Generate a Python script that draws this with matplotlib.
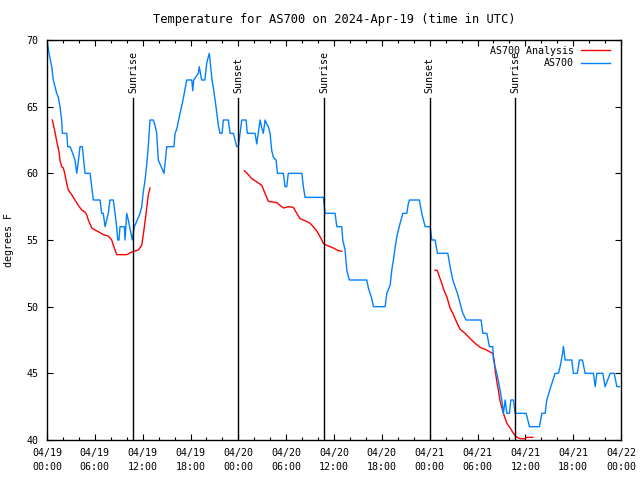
import matplotlib
matplotlib.use('Agg')
import matplotlib.pyplot as plt
import matplotlib.dates as mdates
import numpy as np
from datetime import datetime, timedelta

# start of plot (UTC)
t0 = datetime(2024, 4, 19, 0, 0)

# AS700 observations: hours since start, temperature (F)
obs_hours = [0, 0.25, 0.59, 0.79, 1.22, 1.42, 1.63, 1.84, 1.92, 2.47, 2.6, 2.89, 3.1, 3.51, 3.73,
             3.95, 4.14, 4.43, 4.77, 5.4, 5.61, 5.81, 6.65, 6.86, 7.06, 7.28, 7.49, 7.69, 7.9, 8.32,
             8.53, 8.74, 8.87, 9.03, 9.16, 9.7, 9.79, 10.0, 10.2, 10.7, 10.95, 11.25, 11.67, 11.88,
             12.08, 12.3, 12.5, 12.7, 12.92, 13.34, 13.55, 13.76, 13.96, 14.68, 15.02, 15.93, 16.06,
             16.27, 16.69, 17.06, 17.53, 18.16, 18.28, 18.4, 18.98, 19.1, 19.4, 19.8, 20.04, 20.36,
             20.7, 20.87, 21.2, 21.49, 21.7, 21.96, 22.12, 22.75, 22.96, 23.38, 23.59, 23.8, 24.0,
             24.22, 24.43, 24.97, 25.13, 26.1, 26.31, 26.5, 26.73, 26.9, 27.14, 27.35, 27.56, 27.77,
             27.98, 28.19, 28.4, 28.73, 28.9, 29.65, 29.86, 30.07, 30.27, 31.96, 32.16, 32.37, 34.67,
             34.88, 36.14, 36.35, 36.97, 37.1, 37.39, 37.6, 37.93, 40.11, 40.31, 40.53, 40.74, 40.94,
             42.41, 42.62, 43.04, 43.25, 43.45, 43.66, 43.88, 44.08, 44.29, 44.63, 45.13, 45.33,
             45.46, 46.71, 47.01, 47.43, 48.06, 48.27, 48.68, 48.97, 50.28, 50.56, 50.9, 51.19,
             51.48, 51.82, 52.16, 52.57, 54.45, 54.67, 55.17, 55.5, 55.92, 56.0, 56.42, 56.75, 57.05,
             57.25, 57.47, 57.68, 58.0, 58.18, 58.51, 58.72, 60.1, 60.52, 61.77, 62.07, 62.48, 62.69,
             63.2, 63.74, 64.15, 64.37, 64.7, 64.78, 64.99, 65.83, 66.03, 66.53, 66.78, 67.16, 67.5,
             68.54, 68.76, 68.97, 69.72, 70.01, 70.64, 71.15, 71.48, 71.81]
obs_temp = [70, 69, 68, 67, 66, 65.7, 65, 64, 63, 63, 62, 62, 61.7, 61, 60,
            61, 62, 62, 60, 60, 59, 58, 58, 57, 57, 56, 56.5, 57, 58, 58,
            57, 56, 55, 55, 56, 56, 55, 57, 56.5, 55, 56, 56.4, 57, 57.5,
            58.6, 59.5, 60.6, 62, 64, 64, 63.6, 63, 61, 60, 62, 62, 63,
            63.3, 64.5, 65.5, 67, 67, 66.2, 67, 67.5, 68, 67, 67, 68.3, 69,
            67, 66.4, 65, 63.6, 63, 63, 64, 64, 63, 63, 62.5, 62, 62,
            63, 64, 64, 63, 63, 62.2, 63, 64, 63.5, 63, 64, 63.7, 63.5,
            63, 61.7, 61.2, 61, 60, 60, 59, 59, 60, 60, 59, 58.2, 58.2,
            57, 57, 56, 56, 55, 54.25, 52.75, 52, 52, 51.4, 51, 50.6, 50,
            50, 51, 51.6, 52.75, 53.5, 54.4, 55.25, 55.75, 56.25, 57, 57, 57.75,
            58, 58, 57, 56, 56, 55, 55, 54, 54, 53, 52, 51.5,
            51, 50.25, 49.5, 49, 49, 48, 48, 47, 47, 46, 45, 44, 43,
            42, 43, 42, 42, 43, 43, 42, 42, 41, 41, 42, 42, 43,
            44, 45, 45, 45.5, 46.6, 47, 46, 46, 45, 45, 46, 46, 45,
            45, 44, 45, 45, 44, 45, 45, 44, 44]

# AS700 Analysis (three separate runs)
ana1_hours = [0.67, 1.0, 1.22, 1.51, 1.63, 1.84, 2.05, 2.26, 2.47, 2.67, 3.1, 3.51, 3.93, 4.35, 4.77,
              4.98, 5.18, 5.61, 6.02, 6.65, 7.06, 7.69, 8.12, 8.32, 8.75, 10.0, 10.63, 11.46, 11.88,
              12.08, 12.3, 12.51, 12.71, 12.92]
ana1_temp = [64, 63.1, 62.4, 61.6, 61, 60.5, 60.4, 59.9, 59.25, 58.75, 58.4, 58, 57.6, 57.25, 57.1,
             56.9, 56.5, 55.9, 55.75, 55.55, 55.4, 55.3, 55, 54.6, 53.9, 53.9, 54.1, 54.25, 54.6,
             55.4, 56.4, 57.4, 58.4, 58.9]
ana2_hours = [24.76, 25.26, 25.68, 26.22, 26.94, 27.35, 27.77, 28.82, 29.23, 29.65, 30.28, 30.9,
              31.33, 31.74, 32.37, 33.0, 33.41, 33.92, 34.25, 34.67, 35.09, 35.92, 36.55, 36.98]
ana2_temp = [60.2, 59.9, 59.6, 59.4, 59.1, 58.5, 57.9, 57.8, 57.6, 57.4, 57.5, 57.45,
             57, 56.6, 56.45, 56.25, 56, 55.6, 55.25, 54.75, 54.6, 54.4, 54.2, 54.15]
ana3_hours = [48.68, 48.97, 49.22, 49.52, 49.81, 50.15, 50.56, 50.98, 51.41, 51.82, 52.45, 53.08,
              53.7, 54.33, 54.96, 55.58, 55.92, 56.09, 56.21, 56.42, 56.62, 56.84, 57.25, 57.68,
              58.09, 58.51, 58.81, 59.35, 59.97, 60.19, 60.94]
ana3_temp = [52.75, 52.7, 52.25, 51.75, 51.2, 50.75, 49.9, 49.4, 48.8, 48.3, 48, 47.6,
             47.25, 46.95, 46.8, 46.6, 46.5, 46, 45.25, 44.4, 43.75, 42.9, 42, 41.25,
             40.9, 40.5, 40.25, 40.1, 40.1, 40.2, 40.2]

# sunrise / sunset (hours since start)
sun_hours = [10.79, 23.96, 34.76, 47.99, 58.72]
sun_labels = ['Sunrise', 'Sunset', 'Sunrise', 'Sunset', 'Sunrise']


def to_dt(hours):
    return [t0 + timedelta(hours=h) for h in hours]


plt.rcParams['font.family'] = 'DejaVu Sans Mono'
plt.rcParams['font.size'] = 7.2

fig = plt.figure(figsize=(6.4, 4.8), dpi=100)
ax = fig.add_axes([47 / 640, 40 / 480, 574 / 640, 400 / 480])

red = '#ff0000'
blue = '#0080ff'

ax.plot(to_dt(ana1_hours), ana1_temp, color=red, lw=1.0, label='AS700 Analysis')
ax.plot(to_dt(ana2_hours), ana2_temp, color=red, lw=1.0)
ax.plot(to_dt(ana3_hours), ana3_temp, color=red, lw=1.0)
ax.plot(to_dt(obs_hours), obs_temp, color=blue, lw=1.0, label='AS700')

for h, lab in zip(sun_hours, sun_labels):
    d = t0 + timedelta(hours=h)
    ax.plot([d, d], [40, 65.65], color='black', lw=1.0)
    ax.text(d, 66.05, lab, rotation=90, ha='center', va='bottom')

ax.set_xlim(t0, t0 + timedelta(hours=72))
ax.set_ylim(40, 70)
ax.xaxis.set_major_locator(mdates.HourLocator(byhour=[0, 6, 12, 18]))
ax.xaxis.set_minor_locator(mdates.HourLocator(byhour=range(0, 24, 2)))
ax.xaxis.set_major_formatter(mdates.DateFormatter('%m/%d\n%H:%M'))
ax.set_yticks([40, 45, 50, 55, 60, 65, 70])

ax.tick_params(which='both', direction='in', top=True, right=True, colors='black')
ax.tick_params(which='major', length=4.5, width=0.8, pad=6)
ax.tick_params(which='minor', length=2.3, width=0.8)
for lbl in ax.get_xticklabels():
    lbl.set_linespacing(1.5)
for s in ax.spines.values():
    s.set_linewidth(1.0)

ax.set_ylabel('degrees F', labelpad=9)
ax.set_title('Temperature for AS700 on 2024-Apr-19 (time in UTC)', pad=12)

ax.legend(loc='upper right', bbox_to_anchor=(1 - 5 / 574, 1), frameon=False, markerfirst=False,
          handlelength=2.9, handletextpad=0.7, labelspacing=0.25, borderaxespad=0.2, fontsize=7.2)

fig.savefig('out.png', dpi=100)
